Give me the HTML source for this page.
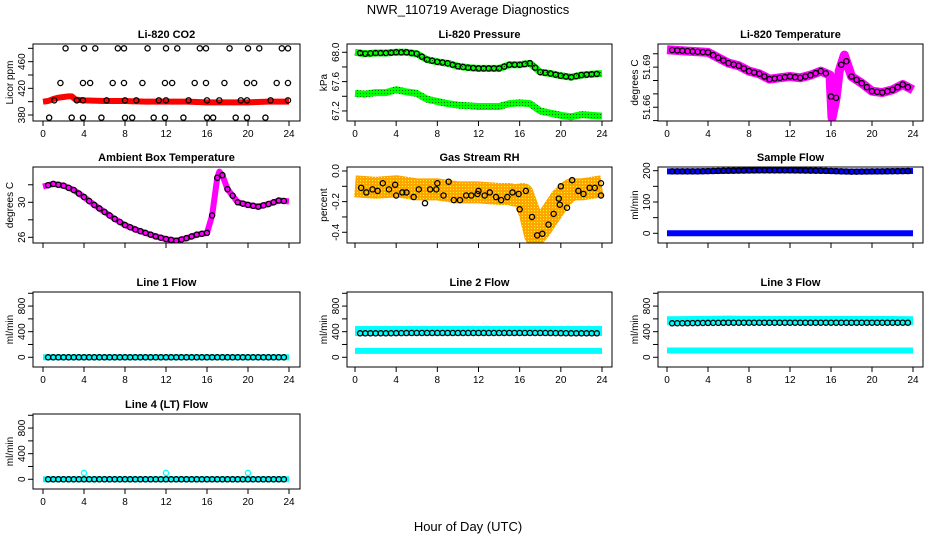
<!DOCTYPE html>
<html><head><meta charset="utf-8"><style>
html,body{margin:0;padding:0;background:#fff}
svg{display:block}
text{font-family:"Liberation Sans",sans-serif;fill:#000}
.t{font-size:11px;font-weight:bold}
.tk{font-size:10px}
</style></head><body>
<svg id="c" width="936" height="540" viewBox="0 0 936 540" xmlns="http://www.w3.org/2000/svg">
<defs>
<pattern id="speck" width="3" height="3" patternUnits="userSpaceOnUse"><rect width="3" height="3" fill="#FFA500"/><rect width="1" height="1" fill="#FF0"/></pattern>
<pattern id="gspeck" width="3" height="3" patternUnits="userSpaceOnUse"><rect width="3" height="3" fill="#0F0"/><rect width="1" height="1" fill="#060"/></pattern>
</defs>
<text x="468" y="14" text-anchor="middle" font-size="13">NWR_110719  Average Diagnostics</text>
<text x="468" y="531" text-anchor="middle" font-size="13">Hour of Day (UTC)</text>
</svg>
<script>
// ---- data ----
const co2Hours=[0,0.5,1,1.5,2,2.5,2.8,3.2,4,6,8,10,12,14,16,18,20,22,24];
const co2Vals=[400,401,404,406,407,408,408,403,402,401,401,400,400,400,399,399,399,400,400];
const co2CircH=[2.2,4.0,5.1,7.3,7.9,10.2,12.0,13.1,15.3,15.9,18.2,20.0,21.1,23.3,23.9,1.7,3.9,4.6,6.8,7.9,9.7,11.9,12.6,14.8,15.9,17.7,19.9,20.6,22.8,23.9,1.1,3.3,3.9,6.2,8.0,9.1,11.3,12.0,14.2,16.0,17.2,19.3,19.9,22.2,23.9,0.6,2.8,3.9,5.7,8.0,8.7,10.8,11.9,13.7,16.0,16.6,18.8,19.9,21.7];
const co2CircV=[480,480,480,480,480,480,480,480,480,480,480,480,480,480,480,428,428,428,428,428,428,428,428,428,428,428,428,428,428,428,402,402,402,402,402,402,402,402,402,402,402,402,402,402,402,376,376,376,376,376,376,376,376,376,376,376,376,376,376];
const presHours=[0,1,2,3,4,5,6,7,8,9,10,11,12,13,14,15,16,17,18,19,20,21,22,23,24];
const presUpper=[68.0,67.98,67.99,67.99,68.0,68.0,67.98,67.9,67.87,67.85,67.81,67.79,67.78,67.78,67.78,67.83,67.83,67.85,67.73,67.71,67.68,67.66,67.69,67.7,67.71];
const presLower=[67.44,67.43,67.45,67.45,67.49,67.46,67.44,67.36,67.33,67.3,67.28,67.27,67.26,67.26,67.26,67.3,67.31,67.3,67.2,67.17,67.14,67.12,67.15,67.14,67.13];
const ltHours=[0,2,4,5,6,7,8,9,10,11,12,13,14,15,15.9,16.1,16.5,16.8,17.3,18,19,20,21,22,23,24];
const ltVals=[51.703,51.702,51.701,51.697,51.693,51.691,51.687,51.685,51.681,51.682,51.683,51.682,51.684,51.687,51.684,51.652,51.667,51.687,51.699,51.683,51.678,51.672,51.671,51.673,51.677,51.673];
const ambHours=[0,1,2,3,4,5,6,7,8,9,10,11,12,13,14,15,16,16.5,17,17.2,17.5,18,19,20,21,22,23,24];
const ambVals=[31.8,32.1,31.9,31.4,30.6,29.7,28.9,28.1,27.4,26.9,26.5,26.1,25.8,25.6,25.9,26.3,26.5,28.5,32.8,33.5,33.1,31.5,30.0,29.7,29.5,29.8,30.2,30.1];
const rhHours=[0,2,4,6,8,10,12,14,15,15.5,16.3,17,17.5,18,19,20,21,22,23,24];
const rhVals=[-0.1,-0.11,-0.1,-0.12,-0.12,-0.14,-0.14,-0.15,-0.15,-0.16,-0.15,-0.28,-0.42,-0.38,-0.28,-0.18,-0.12,-0.12,-0.11,-0.1];
const rhCircH=[0.6,1.1,1.7,2.2,2.7,3.3,3.9,4.0,4.6,5.0,5.7,6.2,6.8,7.3,7.9,8.0,8.6,9.1,9.6,10.2,10.8,11.3,11.9,12.0,12.6,13.1,13.7,14.2,14.8,15.3,15.9,16.0,16.6,17.2,17.7,18.2,18.8,19.3,19.8,19.9,20.0,20.6,21.1,21.7,22.2,22.8,23.3,23.9,23.9];
const rhCircV=[-0.11,-0.14,-0.12,-0.13,-0.08,-0.12,-0.09,-0.16,-0.14,-0.14,-0.17,-0.12,-0.21,-0.12,-0.12,-0.08,-0.16,-0.07,-0.19,-0.19,-0.16,-0.16,-0.15,-0.13,-0.16,-0.14,-0.17,-0.19,-0.17,-0.14,-0.15,-0.25,-0.13,-0.30,-0.42,-0.41,-0.35,-0.28,-0.18,-0.22,-0.10,-0.24,-0.06,-0.13,-0.15,-0.11,-0.11,-0.16,-0.08];
const sampleUpper=[198,198,200,201,201,200,197,198,199];
const sampleLower=[0,0,0,0,0,0,0,0,0];
const flowHours=[0,3,6,9,12,15,18,21,24];
const line1Vals=[0,0,0,0,0,0,0,0,0];
const line2Upper=[410,410,410,410,410,410,410,410,410];
const line2Lower=[100,100,100,100,100,100,100,100,100];
const line2Circ=[375,375,380,380,380,380,380,375,375];
const line3Upper=[570,575,580,575,575,575,575,575,570];
const line3Lower=[105,105,105,105,105,105,105,105,105];
const line3Circ=[530,535,540,540,540,540,540,540,540];
const line4Vals=[0,0,0,0,0,0,0,0,0];
const line4SpikeH=[4,12,20];
const line4SpikeV=[100,100,100];
const xTicks=[0,4,8,12,16,20,24];

// ---- layout ----
const svg=document.getElementById('c');
const NS='http://www.w3.org/2000/svg';
const cols=[{l:33,r:300,x0:43,x24:289},{l:347,r:612,x0:355,x24:602},{l:658,r:923,x0:667,x24:913}];
const rows=[[44,121],[167,243],[292,367],[414,489]];
function mk(tag,attrs,parent){const e=document.createElementNS(NS,tag);for(const k in attrs)e.setAttribute(k,attrs[k]);(parent||svg).appendChild(e);return e;}
function panel(name,title,c,r,lo,hi,ticks,labels,ylab,showX){
  const C=cols[c],R=rows[r];
  const g=mk('g',{});
  
  
  const sx=h=>C.x0+(C.x24-C.x0)*h/24;
  const sy=v=>R[1]-(v-lo)/(hi-lo)*(R[1]-R[0]);
  const tt=mk('text',{x:(C.l+C.r)/2,y:R[0]-6,'text-anchor':'middle',class:'t'},g);tt.textContent=title;
  
  
  const ax=mk('g',{},g);
  
  
  mk('line',{x1:sx(0),x2:sx(24),y1:R[1],y2:R[1],stroke:'#000'},ax);
  xTicks.forEach(t=>{mk('line',{x1:sx(t),x2:sx(t),y1:R[1],y2:R[1]+5,stroke:'#000'},ax);
    if(showX){const tx=mk('text',{x:sx(t),y:R[1]+16,'text-anchor':'middle',class:'tk'},ax);tx.textContent=t;}});
  const ay=mk('g',{},g);
  
  
  ticks.forEach((t,i)=>{const y=sy(t);mk('line',{x1:C.l-5,x2:C.l,y1:y,y2:y,stroke:'#000'},ay);
    if(labels[i]!==''){const tx=mk('text',{x:C.l-8,y:y,'text-anchor':'middle',class:'tk',transform:'rotate(-90 '+(C.l-8)+' '+y+')'},ay);tx.textContent=labels[i];}});
  const yl=mk('text',{x:C.l-20,y:(R[0]+R[1])/2,'text-anchor':'middle',class:'tk',transform:'rotate(-90 '+(C.l-20)+' '+(R[0]+R[1])/2+')'},g);yl.textContent=ylab;
  
  
  const cp='cp'+name;const clip=mk('clipPath',{id:cp},g);mk('rect',{x:C.l,y:R[0],width:C.r-C.l,height:R[1]-R[0]},clip);
  const plot=mk('g',{'clip-path':'url(#'+cp+')'},g);
  mk('rect',{x:C.l,y:R[0],width:C.r-C.l,height:R[1]-R[0],fill:'none',stroke:'#000'},g);
  return {sx,sy,plot};
}
function band(P,hs,vs,color,w,nm){const pts=hs.map((h,i)=>P.sx(h)+','+P.sy(vs[i])).join(' ');
  const e=mk('polyline',{points:pts,fill:'none',stroke:color,'stroke-width':w,'stroke-linejoin':'round','stroke-linecap':'butt'},P.plot);
  
  return e;}
function circles(P,hs,vs,color,nm){hs.forEach((h,i)=>{const e=mk('circle',{cx:P.sx(h),cy:P.sy(vs[i]),r:2.6,fill:'none',stroke:color,'stroke-width':1.3},P.plot);
  
  });}
function interp(hs,vs,h){for(let i=1;i<hs.length;i++){if(h<=hs[i]){const f=(h-hs[i-1])/(hs[i]-hs[i-1]);return vs[i-1]+f*(vs[i]-vs[i-1]);}}return vs[vs.length-1];}
const half=[];for(let h=0.5;h<=23.9;h+=0.5)half.push(h);

// CO2
let P=panel('co2','Li-820 CO2',0,0,371,486.5,[380,400,420,440,460,480],['380','','420','','460',''],'Licor ppm',true);
band(P,co2Hours,co2Vals,'#F00',6,'co2-band');
circles(P,co2CircH,co2CircV,'#000','co2-point');
// Pressure
P=panel('pressure','Li-820 Pressure',1,0,67.063,68.113,[67.2,67.4,67.6,67.8,68.0],['67.2','','67.6','','68.0'],'kPa',true);
band(P,presHours,presUpper,'url(#gspeck)',7,'pressure-upper-band');
band(P,presHours,presLower,'url(#gspeck)',7,'pressure-lower-band');
circles(P,half,half.map(h=>interp(presHours,presUpper,h)),'#000','pressure-point');
// Li temp
P=panel('litemp','Li-820 Temperature',2,0,51.6497,51.7073,[51.65,51.66,51.67,51.68,51.69,51.70],['','51.66','','','51.69',''],'degrees C',true);
band(P,ltHours,ltVals,'#F0F',9,'litemp-band');
circles(P,half,half.map(h=>interp(ltHours,ltVals,h)),'#000','litemp-point');
// Ambient
P=panel('ambient','Ambient Box Temperature',0,1,25.35,34.03,[26,28,30,32],['26','','30',''],'degrees C',false);
band(P,ambHours,ambVals,'#F0F',6,'ambient-band');
circles(P,half,half.map(h=>interp(ambHours,ambVals,h)),'#000','ambient-point');
// RH
P=panel('rh','Gas Stream RH',1,1,-0.47,0.026,[-0.4,-0.3,-0.2,-0.1,0.0],['-0.4','','-0.2','','0.0'],'percent',false);
band(P,rhHours,rhVals,'url(#speck)',22,'rh-band');
circles(P,rhCircH,rhCircV,'#000','rh-point');
// Sample flow
P=panel('sample','Sample Flow',2,1,-31,211.8,[0,50,100,150,200],['0','','100','','200'],'ml/min',false);
band(P,flowHours,sampleUpper,'#00F',6,'sample-upper-band');
band(P,flowHours,sampleLower,'#00F',6,'sample-lower-band');
circles(P,half,half.map(h=>interp(flowHours,sampleUpper,h)),'#000','sample-point');
// Line flows
const fT=[0,200,400,600,800,1000],fL=['0','','400','','800',''];
P=panel('line1','Line 1 Flow',0,2,-152,1020,fT,fL,'ml/min',true);
band(P,flowHours,line1Vals,'#0FF',6,'line1-band');
circles(P,half,half.map(h=>interp(flowHours,line1Vals,h)),'#000','line1-point');
P=panel('line2','Line 2 Flow',1,2,-152,1020,fT,fL,'ml/min',true);
band(P,flowHours,line2Upper,'#0FF',10,'line2-upper-band');
band(P,flowHours,line2Lower,'#0FF',6,'line2-lower-band');
circles(P,half,half.map(h=>interp(flowHours,line2Circ,h)),'#000','line2-point');
P=panel('line3','Line 3 Flow',2,2,-152,1020,fT,fL,'ml/min',true);
band(P,flowHours,line3Upper,'#0FF',9,'line3-upper-band');
band(P,flowHours,line3Lower,'#0FF',6,'line3-lower-band');
circles(P,half,half.map(h=>interp(flowHours,line3Circ,h)),'#000','line3-point');
P=panel('line4','Line 4 (LT) Flow',0,3,-152,1020,fT,fL,'ml/min',true);
band(P,flowHours,line4Vals,'#0FF',6,'line4-band');
circles(P,half,half.map(h=>interp(flowHours,line4Vals,h)),'#000','line4-point');
circles(P,line4SpikeH,line4SpikeV,'#0FF','line4-spike-point');
</script>
</body></html>
